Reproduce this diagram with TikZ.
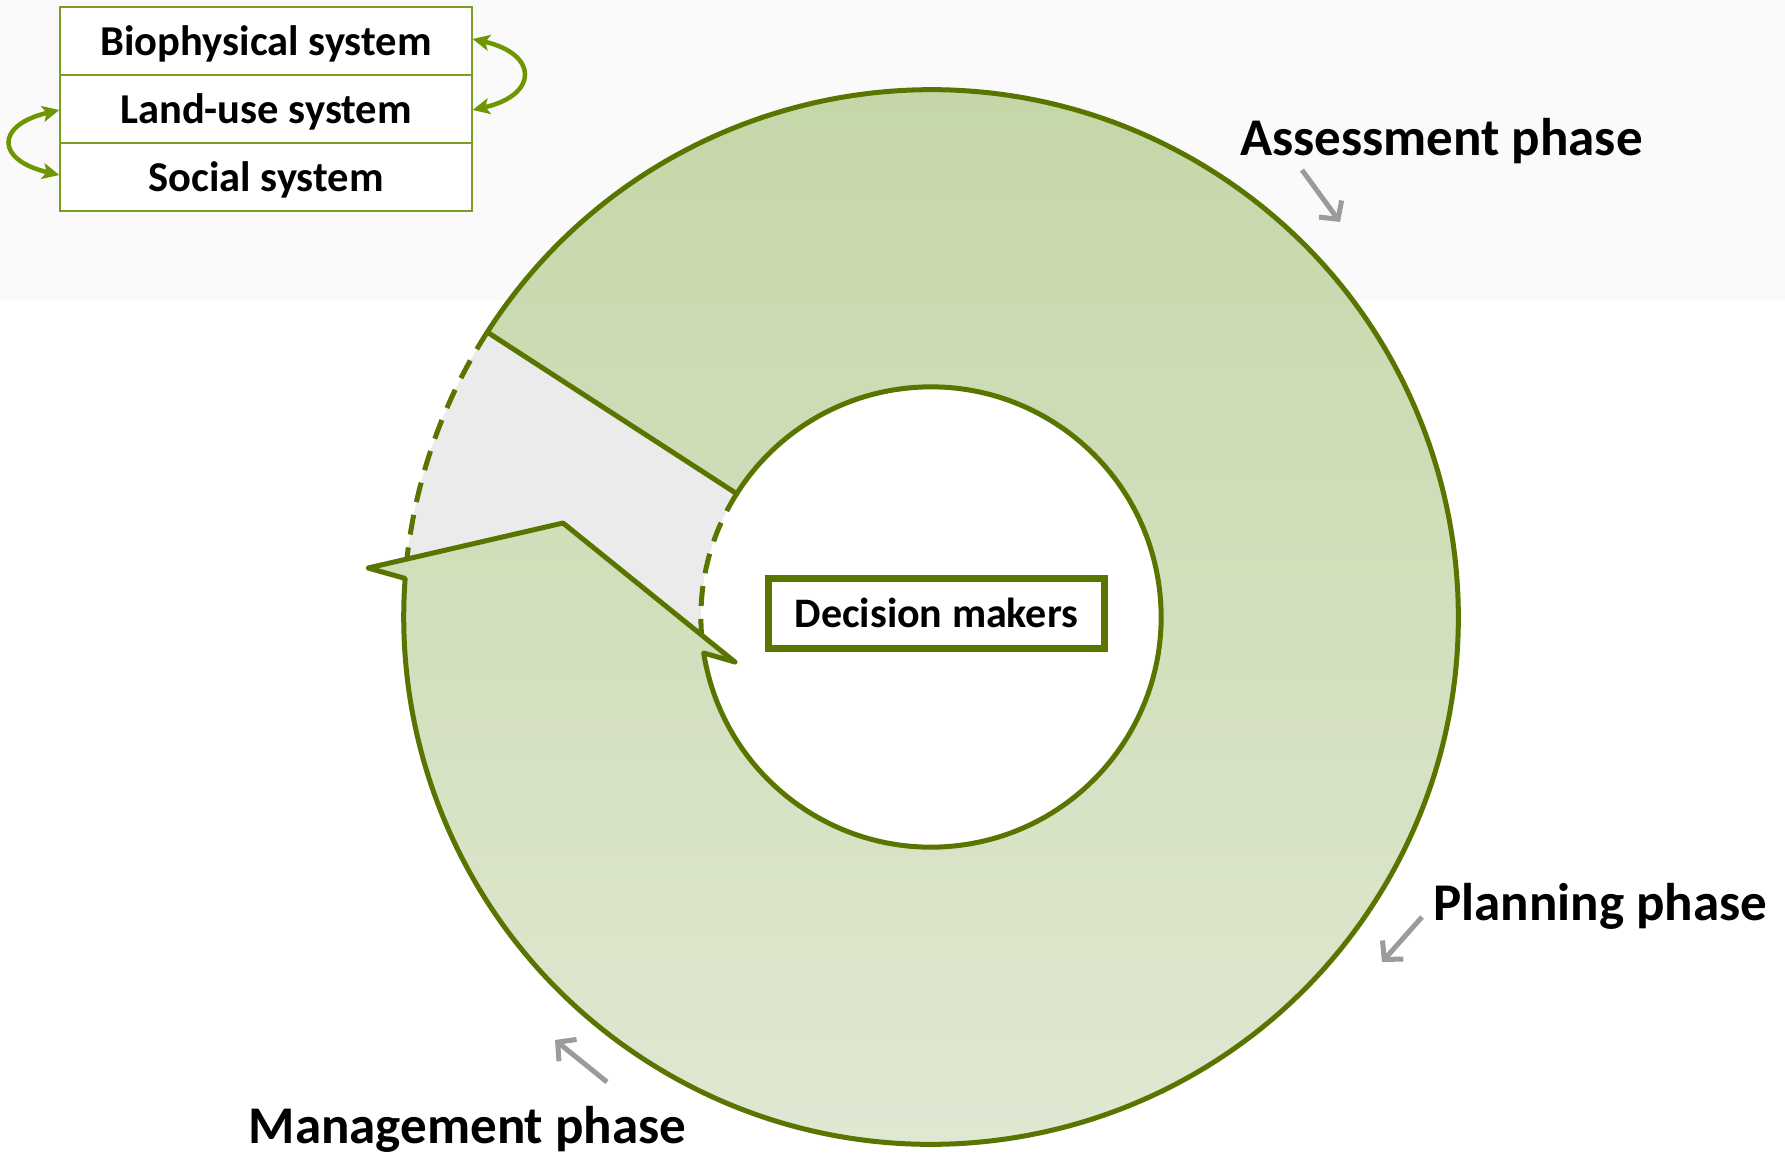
\documentclass[tikz,border=0pt]{standalone}
\usepackage{fontspec}
\setmainfont{Carlito}
\usetikzlibrary{arrows.meta}
\definecolor{ringline}{RGB}{89,117,0}
\definecolor{boxline}{RGB}{122,158,34}
\definecolor{sysarr}{RGB}{110,150,0}
\definecolor{ptrgray}{RGB}{155,155,155}
\definecolor{ringtop}{RGB}{195,214,165}
\definecolor{ringbot}{RGB}{225,233,213}
\definecolor{grayreg}{RGB}{235,235,235}
\definecolor{bgtop}{RGB}{250,250,250}
\tikzset{
  ringstyle/.style={draw=ringline, line width=0.05cm, line join=round, top color=ringtop, bottom color=ringbot},
  dashline/.style={draw=ringline, line width=0.05cm, dash pattern=on 0.2cm off 0.13cm},
  sysbox/.style={draw=boxline, line width=0.02cm, fill=white, minimum width=4.11cm, minimum height=0.68cm, inner sep=0pt, text height=0.30cm, text depth=0.02cm, font=\fontsize{12.1pt}{14pt}\selectfont\bfseries},
  dmbox/.style={draw=ringline, line width=0.07cm, fill=white, minimum width=3.36cm, minimum height=0.695cm, inner sep=0pt, text height=0.30cm, text depth=0.02cm, font=\fontsize{11.95pt}{14pt}\selectfont\bfseries},
  phase/.style={anchor=base, inner sep=0pt, font=\fontsize{15.08pt}{18pt}\selectfont\bfseries},
  sysarrow/.style={draw=sysarr, line width=0.045cm, {Stealth[length=0.17cm,width=0.16cm,inset=0.04cm]}-{Stealth[length=0.17cm,width=0.16cm,inset=0.04cm]}},
  ptr/.style={draw=ptrgray, line width=0.05cm, -{Straight Barb[length=0.13cm,width=0.28cm]}}
}
\begin{document}
\begin{tikzpicture}[x=0.01cm,y=0.01cm]
\useasboundingbox (0,0) rectangle (1785,-1154);
\fill[white] (0,0) rectangle (1785,-1154);
\fill[bgtop] (0,0) rectangle (1785,-300);
\coordinate (C) at (931,-617);
% gray gap region
\fill[grayreg] ([shift={(147.3:5.27cm)}]C) arc[start angle=147.3,end angle=175.8,radius=5.27cm]
  -- (368,-568) -- (563,-523) -- (735,-662) -- ([shift={(189:2.3cm)}]C)
  arc[start angle=189,end angle=147.6,radius=2.3cm] -- cycle;
% green ring
\path[ringstyle] ([shift={(147.3:5.27cm)}]C) arc[start angle=147.3,end angle=-184.2,radius=5.27cm]
  -- (368,-568) -- (563,-523) -- (735,-662) -- ([shift={(189:2.3cm)}]C)
  arc[start angle=189,end angle=507.6,radius=2.3cm] -- cycle;
% dashed arcs
\draw[dashline] ([shift={(147.3:5.27cm)}]C) arc[start angle=147.3,end angle=173.7,radius=5.27cm];
\draw[dashline] ([shift={(147.6:2.3cm)}]C) arc[start angle=147.6,end angle=184.5,radius=2.3cm];
% decision makers
\node[dmbox] (dm) at (936.5,-613.75) {Decision makers};
% system boxes
\node[sysbox] (bio) at (266,-41) {Biophysical system};
\node[sysbox] (land) at (266,-109) {Land-use system};
\node[sysbox] (soc) at (266,-177) {Social system};
\draw[sysarrow] ([yshift=0.02cm]bio.east) .. controls +(66,-15) and +(66,15) .. ([yshift=-0.01cm]land.east);
\draw[sysarrow] ([yshift=-0.01cm]land.west) .. controls +(-64,-15) and +(-64,15) .. ([yshift=0.02cm]soc.west);
% phase labels
\node[phase] (assess) at (1441.5,-155) {Assessment phase};
\node[phase] (plan) at (1600,-920) {Planning phase};
\node[phase] (manage) at (467.5,-1143) {Management phase};
% pointers
\coordinate (pa1) at (1302,-170); \coordinate (pa2) at (1340,-222);
\coordinate (pp1) at (1422,-917); \coordinate (pp2) at (1382,-962);
\coordinate (pm1) at (607,-1082); \coordinate (pm2) at (555,-1040);
\draw[ptr] (pa1) -- (pa2);
\draw[ptr] (pp1) -- (pp2);
\draw[ptr] (pm1) -- (pm2);
\end{tikzpicture}
\end{document}
